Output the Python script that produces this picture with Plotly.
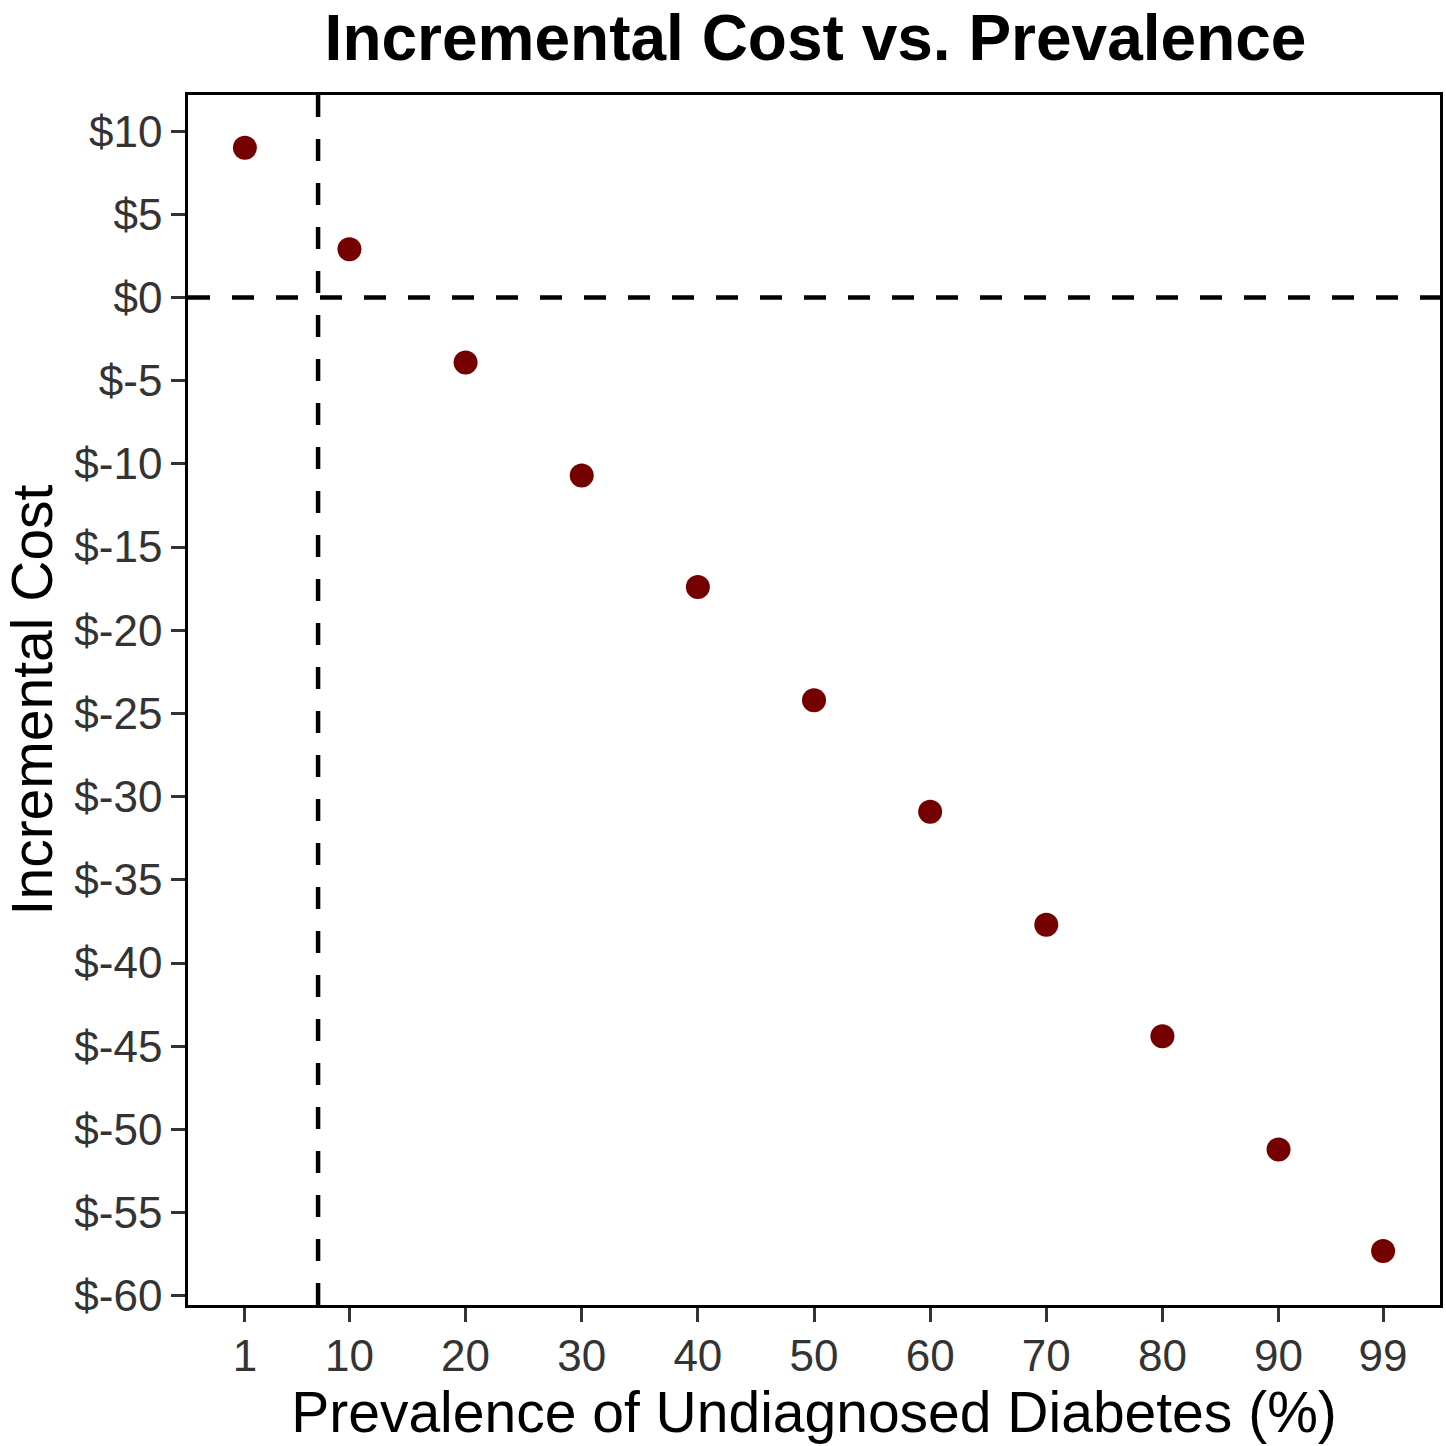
import plotly.graph_objects as go

prevalence = [1, 10, 20, 30, 40, 50, 60, 70, 80, 90, 99]
incremental_cost = [9.0, 2.9, -3.9, -10.7, -17.4, -24.2, -30.9, -37.7, -44.4, -51.2, -57.3]
x_ticks = [1, 10, 20, 30, 40, 50, 60, 70, 80, 90, 99]
y_ticks = [10, 5, 0, -5, -10, -15, -20, -25, -30, -35, -40, -45, -50, -55, -60]
y_tick_labels = ["$%d" % v for v in y_ticks]
threshold_x = 7.3
zero_y = 0

fig = go.Figure()
fig.add_trace(go.Scatter(
    x=prevalence, y=incremental_cost, mode="markers",
    marker=dict(color="#750000", size=24, line=dict(width=0)),
    showlegend=False, cliponaxis=False,
))

fig.add_shape(type="line", xref="x", yref="paper", x0=threshold_x, x1=threshold_x, y0=0, y1=1,
              line=dict(color="black", width=4.5, dash="22px,22px"))
fig.add_shape(type="line", xref="paper", yref="y", x0=0, x1=1, y0=zero_y, y1=zero_y,
              line=dict(color="black", width=4.5, dash="22px,22px"))

font_family = "Liberation Sans, Arial, sans-serif"
fig.update_layout(
    width=1446, height=1446,
    margin=dict(l=188, r=3, t=95, b=141),
    plot_bgcolor="white", paper_bgcolor="white",
    font=dict(family=font_family, color="black"),
    title=dict(text="<b>Incremental Cost vs. Prevalence</b>", x=(188 + 1443) / 2 / 1446, xanchor="center",
               y=1 - 38 / 1446, yanchor="middle", font=dict(size=64, color="black")),
    xaxis=dict(range=[-3.9, 103.9], tickvals=x_ticks, ticktext=[str(v) for v in x_ticks],
               showgrid=False, zeroline=False, showline=True, mirror=True, linecolor="black", linewidth=2.5,
               ticks="outside", ticklen=14, tickwidth=2.5, tickcolor="#333333",
               tickfont=dict(size=44, color="#333333"), ticklabelstandoff=-4,
               title=dict(text="Prevalence of Undiagnosed Diabetes (%)", font=dict(size=57, color="black"), standoff=4)),
    yaxis=dict(range=[-60.55, 12.17], tickvals=y_ticks, ticktext=y_tick_labels,
               showgrid=False, zeroline=False, showline=True, mirror=True, linecolor="black", linewidth=2.5,
               ticks="outside", ticklen=14, tickwidth=2.5, tickcolor="#333333",
               tickfont=dict(size=44, color="#333333"),
               title=dict(text="Incremental Cost", font=dict(size=57, color="black"), standoff=20)),
)

fig.write_html("out.html", config={"displayModeBar": False},
               post_script="document.body.style.margin='0';document.body.style.overflow='hidden';")
